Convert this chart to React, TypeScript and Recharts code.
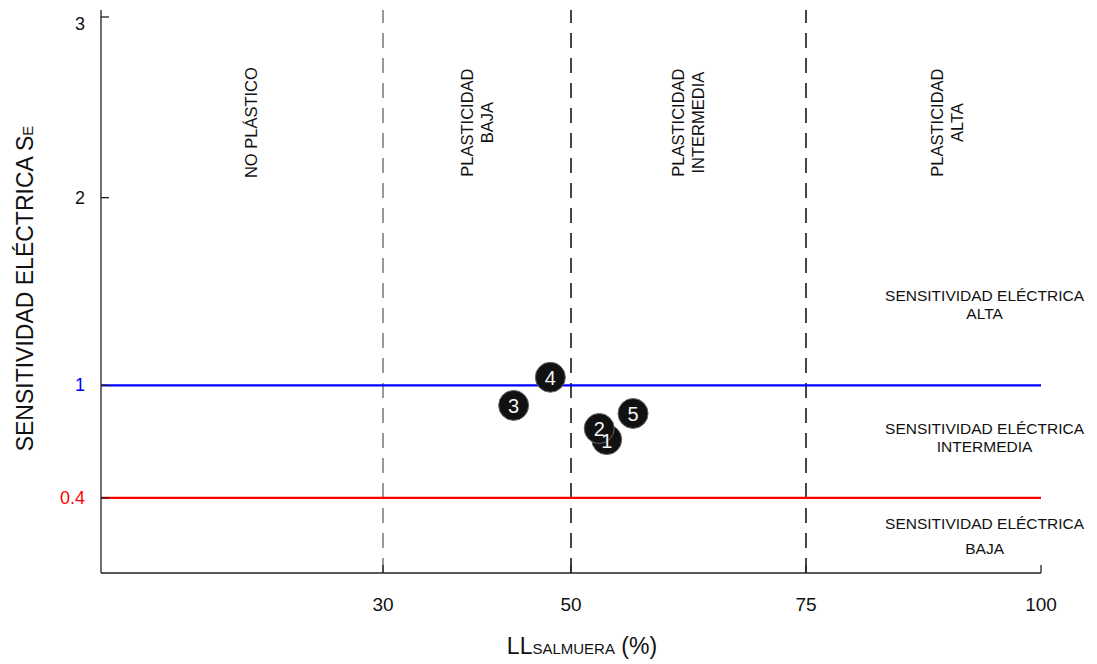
import React from "react";
import { ScatterChart, Scatter, XAxis, YAxis, ReferenceLine } from "recharts";

// muestras
const sampleIds = ["1", "2", "3", "4", "5"];
const llSalmuera = [53.8, 53.0, 43.9, 47.8, 56.6];
const sensitividad = [0.711, 0.77, 0.893, 1.043, 0.85];

const xTicks = [30, 50, 75, 100];
const yTicks = [0.4, 1, 2, 3];

// limites de plasticidad (LL)
const plasticityLimits = [30, 50, 75];
const plasticityLimitColors = ["#808080", "#1a1a1a", "#1a1a1a"];
const zoneNames = [["NO PLÁSTICO"], ["PLASTICIDAD", "BAJA"], ["PLASTICIDAD", "INTERMEDIA"], ["PLASTICIDAD", "ALTA"]];
const zoneLabelX = [16, 40, 62.5, 90];
const zoneLabelY = [2.4, 2.4, 2.4, 2.4];

// limites de sensitividad
const seLimits = [1, 0.4];
const seLimitColors = ["#0000ff", "#ff0000"];
const seClassNames = [
  ["SENSITIVIDAD ELÉCTRICA", "ALTA"],
  ["SENSITIVIDAD ELÉCTRICA", "INTERMEDIA"],
  ["SENSITIVIDAD ELÉCTRICA", "BAJA"],
];
const seClassX = [94, 94, 94];
const seClassY = [1.428, 0.717, 0.195];
const seClassLineGap = [18, 18, 25];

const FONT = "'Liberation Sans', Arial, sans-serif";
const INK = "#111";

const points = sampleIds.map((id, i) => ({ id, x: llSalmuera[i], y: sensitividad[i] }));
const zoneLabels = zoneNames.map((lines, i) => ({ lines, x: zoneLabelX[i], y: zoneLabelY[i] }));
const seLabels = seClassNames.map((lines, i) => ({ lines, gap: seClassLineGap[i], x: seClassX[i], y: seClassY[i] }));

const tickColor = (v: number) => (v === 1 ? "#0000ff" : v === 0.4 ? "#ff0000" : INK);

const YTick = (props: any) => {
  const { x, y, payload } = props;
  const ty = Math.max(y, 16);
  return (
    <g>
      <line x1={x} y1={y} x2={x + 8} y2={y} stroke="#222" strokeWidth={1.3} />
      <text x={x - 16} y={ty} textAnchor="end" dominantBaseline="central" fontSize={18} fontFamily={FONT} fill={tickColor(payload.value)}>
        {payload.value}
      </text>
    </g>
  );
};

const XTick = (props: any) => {
  const { x, y, payload } = props;
  return (
    <g>
      <line x1={x} y1={y} x2={x} y2={y - 8} stroke="#222" strokeWidth={1.3} />
      <text x={x} y={y + 31} textAnchor="middle" dominantBaseline="central" fontSize={19} fontFamily={FONT} fill={INK}>
        {payload.value}
      </text>
    </g>
  );
};

const SampleCircle = (props: any) => {
  const { cx, cy } = props;
  return <circle cx={cx} cy={cy} r={15} fill="#111" stroke="#666" strokeWidth={1} />;
};

const SampleNumber = (props: any) => {
  const { cx, cy, payload } = props;
  return (
    <text x={cx} y={cy + 1} textAnchor="middle" dominantBaseline="central" fontSize={20} fontFamily={FONT} fill="#f4f4f4">
      {payload.id}
    </text>
  );
};

const ZoneLabel = (props: any) => {
  const { cx, cy, payload } = props;
  const n = payload.lines.length;
  return (
    <text transform={`rotate(-90, ${cx}, ${cy})`} x={cx} y={cy} textAnchor="middle" fontSize={16.5} fontFamily={FONT} fill={INK}>
      {payload.lines.map((l: string, i: number) => (
        <tspan key={i} x={cx} y={cy + 6 + (i - (n - 1) / 2) * 20}>
          {l}
        </tspan>
      ))}
    </text>
  );
};

const SeLabel = (props: any) => {
  const { cx, cy, payload } = props;
  return (
    <text x={cx} y={cy} textAnchor="middle" fontSize={15.5} fontFamily={FONT} fill={INK}>
      {payload.lines.map((l: string, i: number) => (
        <tspan key={i} x={cx} y={cy + 5 + (i - 0.5) * payload.gap}>
          {l}
        </tspan>
      ))}
    </text>
  );
};

const YLabel = (props: any) => {
  const { viewBox } = props;
  const x = viewBox.x + 17;
  const y = viewBox.y + viewBox.height / 2 - 3;
  return (
    <text transform={`rotate(-90, ${x}, ${y})`} x={x} y={y + 8} textAnchor="middle" fontSize={23} fontFamily={FONT} fill={INK}>
      SENSITIVIDAD ELÉCTRICA S<tspan fontSize={15}>E</tspan>
    </text>
  );
};

const XLabel = (props: any) => {
  const { viewBox } = props;
  const x = viewBox.x + viewBox.width / 2 + 11;
  const y = viewBox.y + 81;
  return (
    <text x={x} y={y} textAnchor="middle" fontSize={23} fontFamily={FONT} fill={INK}>
      LL<tspan fontSize={15}>SALMUERA</tspan> (%)
    </text>
  );
};

export default function App() {
  return (
    <div style={{ width: 1089, height: 656, background: "#fff" }}>
      <ScatterChart width={1089} height={656} margin={{ top: 2, right: 56, bottom: 0, left: 0 }}>
        <XAxis
          type="number"
          dataKey="x"
          domain={[0, 100]}
          ticks={xTicks}
          height={91}
          tickSize={0}
          tickMargin={0}
          tick={<XTick />}
          axisLine={{ stroke: "#222", strokeWidth: 1.3 }}
          label={<XLabel />}
        />
        <YAxis
          type="number"
          dataKey="y"
          domain={[0, 3]}
          ticks={yTicks}
          width={93}
          tickSize={0}
          tickMargin={0}
          tick={<YTick />}
          axisLine={{ stroke: "#222", strokeWidth: 1.3 }}
          label={<YLabel />}
        />
        {plasticityLimits.map((v, i) => (
          <ReferenceLine key={`v${v}`} x={v} stroke={plasticityLimitColors[i]} strokeWidth={1.6} strokeDasharray="15 10" />
        ))}
        {seLimits.map((v, i) => (
          <ReferenceLine key={`h${v}`} y={v} stroke={seLimitColors[i]} strokeWidth={2.2} />
        ))}
        <Scatter data={zoneLabels} shape={<ZoneLabel />} isAnimationActive={false} />
        <Scatter data={seLabels} shape={<SeLabel />} isAnimationActive={false} />
        <Scatter data={points} shape={<SampleCircle />} isAnimationActive={false} />
        <Scatter data={points} shape={<SampleNumber />} isAnimationActive={false} />
      </ScatterChart>
    </div>
  );
}
